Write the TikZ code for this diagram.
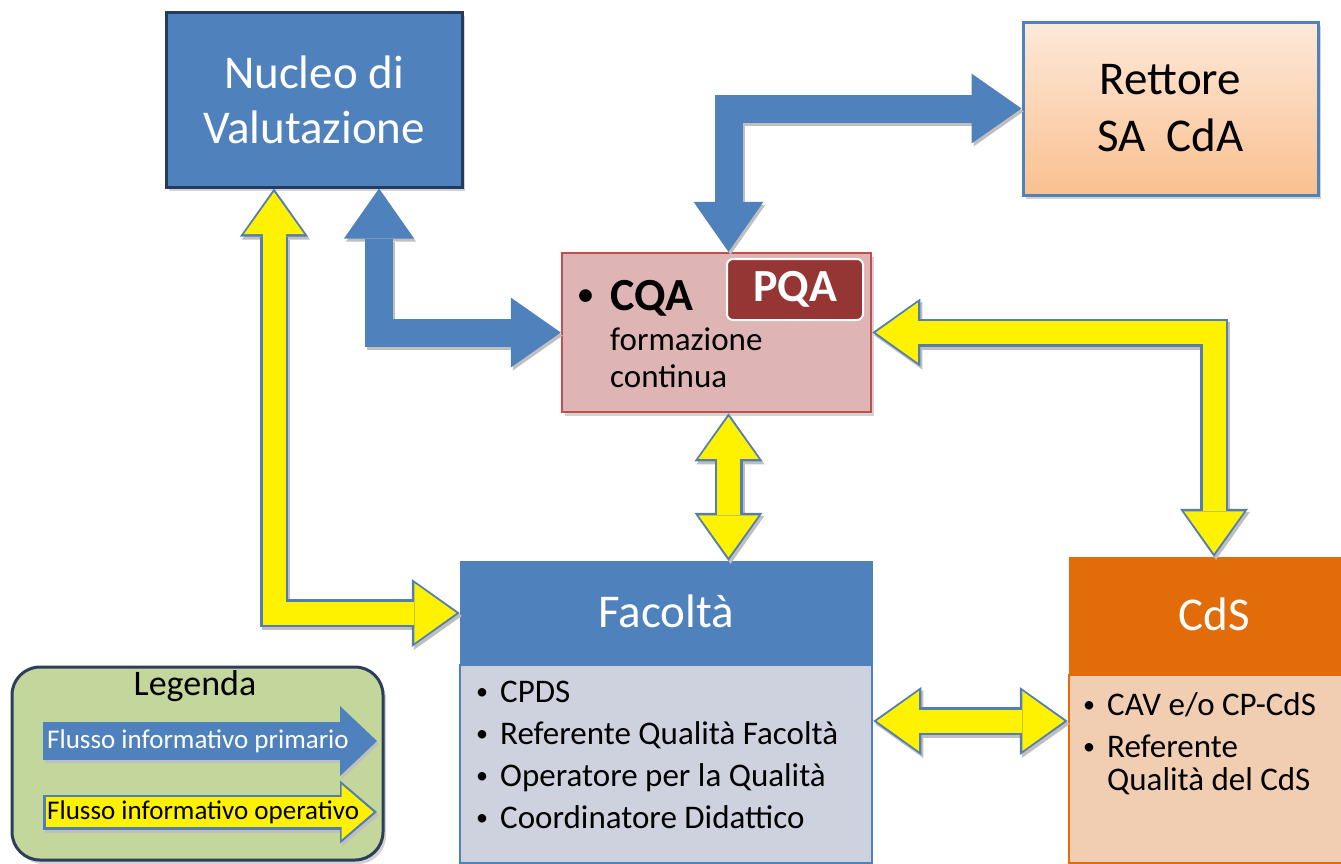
\documentclass[tikz,border=0pt]{standalone}
\usepackage{fontspec}
\setmainfont{Carlito}
\usetikzlibrary{arrows.meta, calc, shadows}

\definecolor{flowblue}{RGB}{79,129,189}
\definecolor{navyedge}{RGB}{36,58,94}
\definecolor{flowedge}{RGB}{84,126,178}
\definecolor{rtop}{RGB}{253,233,217}
\definecolor{rbot}{RGB}{250,192,144}
\definecolor{cqafill}{RGB}{222,180,180}
\definecolor{cqaedge}{RGB}{192,80,77}
\definecolor{pqafill}{RGB}{150,54,52}
\definecolor{facfill}{RGB}{205,210,222}
\definecolor{cdsorange}{RGB}{227,108,10}
\definecolor{cdsfill}{RGB}{241,206,178}
\definecolor{legfill}{RGB}{195,214,155}
\definecolor{legedge}{RGB}{44,62,90}

\newcommand\itm{\makebox[24pt][l]{\raisebox{2.5pt}{\fontsize{24}{24}\selectfont\textbullet}}}

\tikzset{
  box/.style={rectangle, inner sep=0pt, align=center},
  boxshadow/.style={drop shadow={shadow xshift=3pt, shadow yshift=-4pt, opacity=.35}},
  title/.style={text=white, font=\fontsize{47}{55}\selectfont},
  items/.style={anchor=base west, inner sep=0pt, align=left, font=\fontsize{33}{42}\selectfont},
  prhead/.tip={Triangle[length=50pt, width=70pt, line width=0pt]},
  ophead/.tip={Triangle[length=48pt, width=68pt, line width=0pt]},
  opinner/.tip={Triangle[length=42pt, width=60pt, line width=0pt]},
  prshadow/.style={draw=black!25, line width=28pt, arrows={prhead-prhead}, transform canvas={shift={(2pt,-3pt)}}},
  prfill/.style={draw=flowblue, line width=28pt, arrows={prhead-prhead}},
  opshadow/.style={draw=black!25, line width=28pt, arrows={ophead-ophead}, transform canvas={shift={(2pt,-3pt)}}},
  opborder/.style={draw=flowedge, line width=28pt, arrows={ophead-ophead}},
  opfill/.style={draw=yellow, line width=23pt, arrows={opinner-opinner}, shorten >=3.5pt, shorten <=3.5pt}
}

\begin{document}
\begin{tikzpicture}[x=1pt, y=-1pt]
  \clip (0,0) rectangle (1341,863);

  % top row
  \node[box, boxshadow, fill=flowblue, draw=navyedge, line width=3pt, minimum width=296pt, minimum height=175pt, title] (nucleo) at (314,99.5) {Nucleo di\\Valutazione};
  \node[box, boxshadow, top color=rtop, bottom color=rbot, draw=flowblue, line width=3pt, minimum width=295pt, minimum height=173pt, font=\fontsize{47}{57}\selectfont] (rettore) at (1170.5,108.5) {Rettore\\SA\ \ CdA};

  % CQA / PQA
  \node[box, boxshadow, fill=cqafill, draw=cqaedge, line width=2.5pt, minimum width=309pt, minimum height=159pt] (cqa) at (716.5,332.5) {};
  \node[box, rounded corners=6pt, fill=pqafill, draw=white, line width=2pt, minimum width=136pt, minimum height=61pt, text=white, font=\fontsize{46}{46}\selectfont\bfseries] (pqa) at (795,289.5) {PQA};
  \node[anchor=base west, inner sep=0pt, font=\fontsize{46}{46}\selectfont\bfseries] (cqaname) at (578,310) {\makebox[32pt][l]{\raisebox{6pt}{\fontsize{30}{30}\selectfont\textbullet}}CQA};
  \node[items, font=\fontsize{33}{37}\selectfont] (cqanote) at (610,387) {formazione\\continua};

  % Facolta
  \node[box, fill=facfill, draw=flowblue, line width=2.5pt, minimum width=412pt, minimum height=198pt] (facbody) at (666,764) {};
  \node[box, fill=flowblue, draw=flowblue, minimum width=412pt, minimum height=104pt, title] (fachead) at (666,613) {\raisebox{4pt}{Facoltà}};
  \node[items] (facitems) at (476,828) {\itm CPDS\\\itm Referente Qualità Facoltà\\\itm Operatore per la Qualità\\\itm Coordinatore Didattico};

  % CdS
  \node[box, fill=cdsfill, draw=cdsorange, line width=2.5pt, minimum width=290pt, minimum height=188pt] (cdsbody) at (1214,769) {};
  \node[box, fill=cdsorange, draw=cdsorange, minimum width=290pt, minimum height=118pt, title] (cdshead) at (1214,616) {\raisebox{4pt}{CdS}};
  \node[items] (cdsitems) at (1083,790) {\itm CAV e/o CP-CdS\\\itm Referente\\[-9pt]\hspace*{24pt}Qualità del CdS};

  % legend
  \node[box, boxshadow, rounded corners=28pt, fill=legfill, draw=legedge, line width=3pt, minimum width=371pt, minimum height=193pt] (legend) at (197.5,763.5) {};
  \node[anchor=base, inner sep=0pt, font=\fontsize{36}{36}\selectfont] (legtitle) at (195,695) {Legenda};
  \coordinate (pr0) at (43,741);
  \coordinate (pr1) at (377,741);
  \coordinate (op0) at (43,812);
  \coordinate (op1) at (377,812);

  % primary flow
  \foreach \s in {prshadow, prfill} {
    \draw[\s] ($(nucleo.south)+(65,0)$) |- (cqa.west);
    \draw[\s] ($(cqa.north)+(12,0)$) |- (rettore.west);
  }

  % operative flow
  \coordinate (cqadown) at ($(cqa.south)+(12,0)$);
  \coordinate (facright) at ($(facbody.east)+(0,-43)$);
  \foreach \s in {opshadow, opborder, opfill} {
    \draw[\s] (cqa.east) -| (cdshead.north);
    \draw[\s] (cqadown) -- (cqadown |- fachead.north);
    \draw[\s] (facright) -- (facright -| cdsbody.west);
    \draw[\s] ($(nucleo.south)+(-40,0)$) |- (fachead.west);
  }

  % legend arrows
  \foreach \s in {prshadow, prfill}
    \draw[\s, line width=38pt, arrows={-Triangle[length=37pt, width=70pt, line width=0pt]}] (pr0) -- (pr1);
  \draw[opshadow, line width=35pt, arrows={-Triangle[length=37pt, width=63pt, line width=0pt]}] (op0) -- (op1);
  \draw[opborder, line width=35pt, arrows={-Triangle[length=37pt, width=63pt, line width=0pt]}] (op0) -- (op1);
  \draw[opfill, line width=30pt, arrows={-Triangle[length=32pt, width=55pt, line width=0pt]}, shorten <=2.5pt] (op0) -- (op1);
  \node[anchor=west, inner sep=0pt, text=white, font=\fontsize{27}{27}\selectfont] (prlabel) at (47,741) {Flusso informativo primario};
  \node[anchor=west, inner sep=0pt, font=\fontsize{27}{27}\selectfont] (oplabel) at (47,812) {Flusso informativo operativo};
\end{tikzpicture}
\end{document}
